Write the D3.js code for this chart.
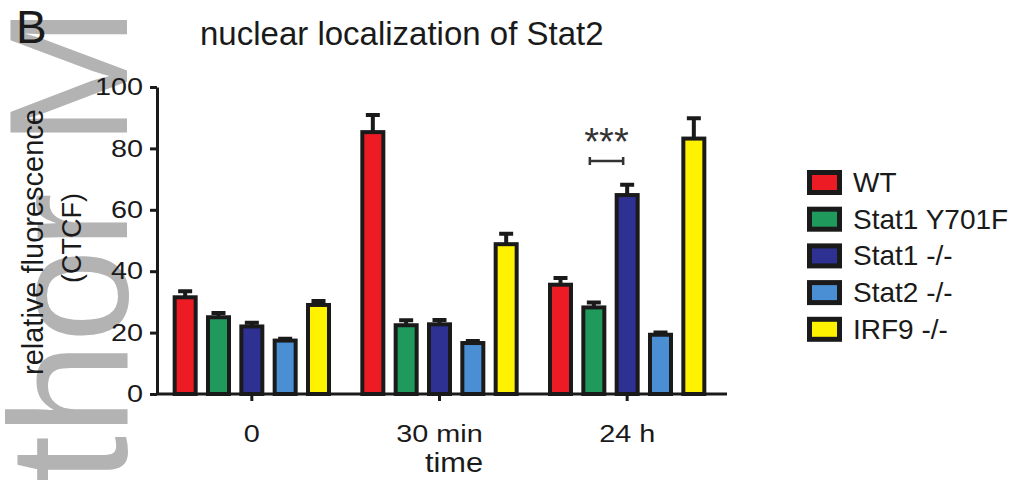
<!DOCTYPE html>
<html>
<head>
<meta charset="utf-8">
<script src="https://cdn.jsdelivr.net/npm/d3@7"></script>
<style>
  body { margin: 0; background: #fff; }
  svg { display: block; font-family: "Liberation Sans", Arial, Helvetica, sans-serif; }
</style>
</head>
<body>
<svg id="chart" width="1016" height="481"></svg>
<script>
// Data
const timepoints = ['0', '30 min', '24 h'];
const genotypes = ['WT', 'Stat1 Y701F', 'Stat1 -/-', 'Stat2 -/-', 'IRF9 -/-'];
const colors = ['#ed1c24', '#1f9a5c', '#2e3192', '#4a8fd3', '#fff200'];
const means0 = [31.5, 25.0, 22.0, 17.4, 29.0];
const means30 = [85.3, 22.4, 22.7, 16.6, 48.8];
const means24 = [35.6, 28.2, 64.8, 19.3, 83.2];
const sem0 = [2.0, 1.4, 1.2, 0.6, 1.3];
const sem30 = [5.6, 1.6, 1.4, 0.7, 3.4];
const sem24 = [2.2, 1.6, 3.4, 0.7, 6.6];
const yTicks = [0, 20, 40, 60, 80, 100];

const means = [means0, means30, means24];
const sems = [sem0, sem30, sem24];

const svg = d3.select('#chart');
const ink = '#1a1a1a';

// Watermark behind everything
svg.append('text')
  .attr('transform', 'translate(127,688) rotate(-90)')
  .style('font-size', '168px')
  .style('fill', '#b3b3b3')
  .text('Author Manuscript');

// Scales
const y = d3.scaleLinear().domain([0, 100]).range([394, 87]);
const x0 = d3.scaleBand().domain(timepoints).range([158, 721]);
const x1 = d3.scaleBand().domain(genotypes).range([0, x0.bandwidth()])
  .paddingInner(0.37).paddingOuter(0.5);

// Panel letter and title
svg.append('text')
  .attr('x', 16).attr('y', 43)
  .style('font-size', '46px')
  .style('fill', ink)
  .text('B');

svg.append('text')
  .attr('x', 200).attr('y', 45)
  .style('font-size', '33px')
  .style('fill', ink)
  .text('nuclear localization of Stat2');

// Bars
const rows = [];
timepoints.forEach((t, i) => {
  genotypes.forEach((g, j) => {
    rows.push({ t, g, color: colors[j], mean: means[i][j], sem: sems[i][j] });
  });
});

const groups = svg.append('g');

// Error bars (upper half only)
groups.selectAll('.err')
  .data(rows)
  .enter()
  .append('path')
  .attr('class', 'err')
  .attr('d', d => {
    const cx = x0(d.t) + x1(d.g) + x1.bandwidth() / 2;
    const top = y(d.mean + d.sem);
    return `M${cx},${y(d.mean)}V${top}M${cx - 7},${top}H${cx + 7}`;
  })
  .attr('fill', 'none')
  .attr('stroke', ink)
  .attr('stroke-width', 4);

groups.selectAll('.bar')
  .data(rows)
  .enter()
  .append('rect')
  .attr('class', 'bar')
  .attr('x', d => x0(d.t) + x1(d.g))
  .attr('y', d => y(d.mean))
  .attr('width', x1.bandwidth())
  .attr('height', d => y(0) - y(d.mean))
  .attr('fill', d => d.color)
  .attr('stroke', ink)
  .attr('stroke-width', 4);

// Y axis
const yAxis = svg.append('g')
  .attr('transform', 'translate(157,0)')
  .call(d3.axisLeft(y).tickValues(yTicks).tickSize(7).tickSizeOuter(0).tickPadding(14));
yAxis.select('.domain').attr('stroke', ink).attr('stroke-width', 3);
yAxis.selectAll('.tick line').attr('stroke', ink).attr('stroke-width', 3);
yAxis.selectAll('.tick text')
  .attr('x', -14 / 1.2)
  .attr('transform', 'scale(1.2,1)')
  .style('font-size', '24px')
  .style('font-family', '"Liberation Sans", Arial, sans-serif')
  .attr('fill', ink);

// X axis
const xAxis = svg.append('g')
  .attr('transform', `translate(0,${y(0)})`)
  .call(d3.axisBottom(x0).tickSize(7).tickSizeOuter(0).tickPadding(24));
xAxis.select('.domain').remove();
xAxis.append('line')
  .attr('x1', 157).attr('x2', 727)
  .attr('stroke', ink).attr('stroke-width', 3);
xAxis.selectAll('.tick line').attr('stroke', ink).attr('stroke-width', 3);
xAxis.selectAll('.tick text')
  .attr('transform', 'scale(1.2,1)')
  .style('font-size', '24px')
  .style('font-family', '"Liberation Sans", Arial, sans-serif')
  .attr('fill', ink);

// Axis titles
svg.append('text')
  .attr('transform', 'translate(454,472) scale(1.1,1)')
  .attr('text-anchor', 'middle')
  .style('font-size', '28px')
  .style('fill', ink)
  .text('time');

svg.append('text')
  .attr('transform', 'translate(43,242) rotate(-90)')
  .attr('text-anchor', 'middle')
  .style('font-size', '29px')
  .style('fill', ink)
  .text('relative fluorescence');

svg.append('text')
  .attr('transform', 'translate(81,238) rotate(-90)')
  .attr('text-anchor', 'middle')
  .style('font-size', '27px')
  .style('fill', ink)
  .text('(CTCF)');

// Significance marker between Stat1 Y701F and Stat1 -/- at 24 h
const gx = x0('24 h');
const bx1 = gx + x1('Stat1 Y701F') + x1.bandwidth() / 2 - 4;
const bx2 = gx + x1('Stat1 -/-') + x1.bandwidth() / 2 - 4;
const by = 161;
svg.append('path')
  .attr('d', `M${bx1},${by - 4}V${by + 4}M${bx1},${by}H${bx2}M${bx2},${by - 4}V${by + 4}`)
  .attr('fill', 'none')
  .attr('stroke', '#333')
  .attr('stroke-width', 2.5);
svg.append('text')
  .attr('x', (bx1 + bx2) / 2).attr('y', 155)
  .attr('text-anchor', 'middle')
  .style('font-size', '38px')
  .style('fill', '#333')
  .text('***');

// Legend
const legend = svg.append('g').attr('transform', 'translate(809.5,172.5)');
const item = legend.selectAll('.item')
  .data(genotypes)
  .enter()
  .append('g')
  .attr('transform', (d, i) => `translate(0,${i * 36.7})`);
item.append('rect')
  .attr('width', 30).attr('height', 20)
  .attr('fill', (d, i) => colors[i])
  .attr('stroke', ink).attr('stroke-width', 5);
item.append('text')
  .attr('x', 43.5).attr('y', 19.5)
  .style('font-size', '28px')
  .style('fill', ink)
  .text(d => d);
</script>
</body>
</html>
